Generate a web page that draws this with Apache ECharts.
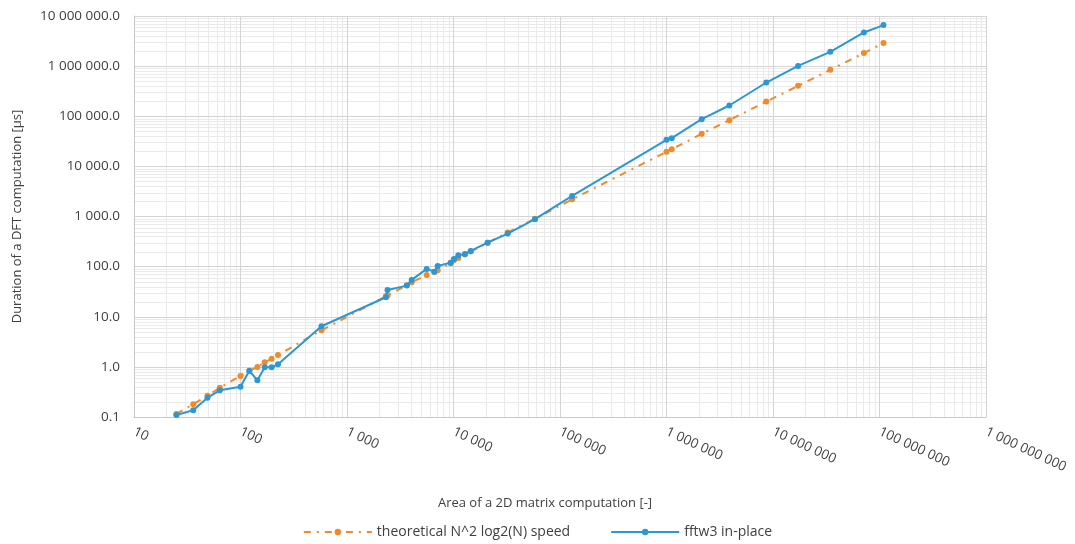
<!DOCTYPE html>
<html>
<head>
<meta charset="utf-8">
<script src="https://cdn.jsdelivr.net/npm/echarts@6/dist/echarts.min.js"></script>
<style>
html,body{margin:0;padding:0;background:#fff;}
#c{width:1075px;height:544px;}
</style>
</head>
<body>
<div id="c"></div>
<script>
// ---- data ----
const areas = [25, 36, 49, 64, 100, 121, 144, 169, 196, 225, 576, 2320, 2400, 3650, 4050, 5600, 6600, 7100, 9400, 10100, 11100, 12800, 14500, 20900, 32300, 58200, 130000, 1000000, 1120000, 2140000, 3890000, 8650000, 17200000, 34500000, 71400000, 109000000];
const fftwInPlace = [0.11, 0.136, 0.243, 0.34, 0.40, 0.84, 0.54, 0.98, 0.98, 1.13, 6.46, 24.5, 34.3, 41.8, 54.3, 90, 79.4, 103, 120, 142, 169, 179, 206, 301, 456, 883, 2576, 33800, 36600, 87500, 163700, 471000, 1010000, 1930000, 4690000, 6580000];
const theoretical = [0.115, 0.18, 0.266, 0.385, 0.66, 0.83, 1.0, 1.24, 1.46, 1.73, 5.38, 25.5, 26.5, 42.5, 49, 68, 78, 85, 117, 134, 149, 174, 200, 298, 480, 900, 2200, 19500, 22000, 44600, 83600, 196000, 404000, 843000, 1820000, 2880000];
const seriesNames = ['theoretical N^2 log2(N) speed', 'fftw3 in-place'];
const xAxisTitle = 'Area of a 2D matrix computation [-]';
const yAxisTitle = 'Duration of a DFT computation [µs]';
const xRange = [10, 1000000000];
const yRange = [0.1, 10000000];

function groupThousands(s) {
  return s.replace(/\B(?=(\d{3})+(?!\d))/g, ' ');
}
function fmtY(v) {
  const s = Number(v).toFixed(1);
  const parts = s.split('.');
  return groupThousands(parts[0]) + '.' + parts[1];
}
function fmtX(v) {
  return groupThousands(String(Math.round(v)));
}

const FONT = 'Open Sans';
const TXT = '#404040';
const ORANGE = '#f08a2a';
const BLUE = '#2b97d5';

const chart = echarts.init(document.getElementById('c'), null, {renderer: 'canvas'});
const option = {
  animation: false,
  backgroundColor: '#fff',
  textStyle: {fontFamily: FONT},
  grid: {left: 134, right: 89, top: 16, bottom: 127, containLabel: false},
  legend: {
    bottom: 0,
    left: 'center',
    itemWidth: 68,
    itemHeight: 8,
    itemGap: 40,
    textStyle: {fontFamily: FONT, fontSize: 14, color: TXT},
    data: seriesNames
  },
  xAxis: {
    type: 'log',
    logBase: 10,
    min: xRange[0],
    max: xRange[1],
    name: xAxisTitle,
    nameLocation: 'middle',
    nameGap: 80,
    nameTextStyle: {fontFamily: FONT, fontSize: 13, color: TXT, padding: [0, 30, 0, 0]},
    axisLine: {show: true, lineStyle: {color: '#c8c8c8'}},
    axisTick: {show: false},
    axisLabel: {rotate: -25, margin: 14, fontFamily: FONT, fontSize: 13.5, color: TXT, formatter: fmtX},
    splitLine: {show: true, lineStyle: {color: '#d4d4d4', width: 1}}
  },
  yAxis: {
    type: 'log',
    logBase: 10,
    min: yRange[0],
    max: yRange[1],
    name: yAxisTitle,
    nameLocation: 'middle',
    nameGap: 110,
    nameTextStyle: {fontFamily: FONT, fontSize: 13, color: TXT},
    axisLine: {show: true, lineStyle: {color: '#c8c8c8'}},
    axisTick: {show: false},
    axisLabel: {margin: 14, fontFamily: FONT, fontSize: 13.5, color: TXT, formatter: fmtY},
    splitLine: {show: true, lineStyle: {color: '#d4d4d4', width: 1}}
  },
  series: [
    {
      name: seriesNames[0],
      type: 'line',
      data: areas.map((a, i) => [a, theoretical[i]]),
      symbol: 'circle',
      symbolSize: 6,
      z: 3,
      itemStyle: {color: ORANGE},
      lineStyle: {color: ORANGE, width: 2, type: [7, 6, 2, 6]}
    },
    {
      name: seriesNames[1],
      type: 'line',
      data: areas.map((a, i) => [a, fftwInPlace[i]]),
      symbol: 'circle',
      symbolSize: 6,
      z: 4,
      itemStyle: {color: BLUE},
      lineStyle: {color: BLUE, width: 2}
    }
  ]
};
chart.setOption(option);

// minor grid lines (2..9 within each decade) placed through the axis scales
function minorGrid() {
  const els = [];
  const p0 = chart.convertToPixel({gridIndex: 0}, [xRange[0], yRange[0]]);
  const p1 = chart.convertToPixel({gridIndex: 0}, [xRange[1], yRange[1]]);
  const style = {stroke: '#eaeaea', lineWidth: 1};
  for (let d = xRange[0]; d < xRange[1]; d *= 10) {
    for (let k = 2; k <= 9; k++) {
      const x = Math.round(chart.convertToPixel({xAxisIndex: 0}, d * k)) + 0.5;
      els.push({type: 'line', silent: true, z: -1, shape: {x1: x, y1: p1[1], x2: x, y2: p0[1]}, style: style});
    }
  }
  for (let d = yRange[0]; d < yRange[1] * 0.99; d *= 10) {
    for (let k = 2; k <= 9; k++) {
      const y = Math.round(chart.convertToPixel({yAxisIndex: 0}, d * k)) + 0.5;
      els.push({type: 'line', silent: true, z: -1, shape: {x1: p0[0], y1: y, x2: p1[0], y2: y}, style: style});
    }
  }
  chart.setOption({graphic: {elements: els}});
}
minorGrid();
</script>
</body>
</html>
